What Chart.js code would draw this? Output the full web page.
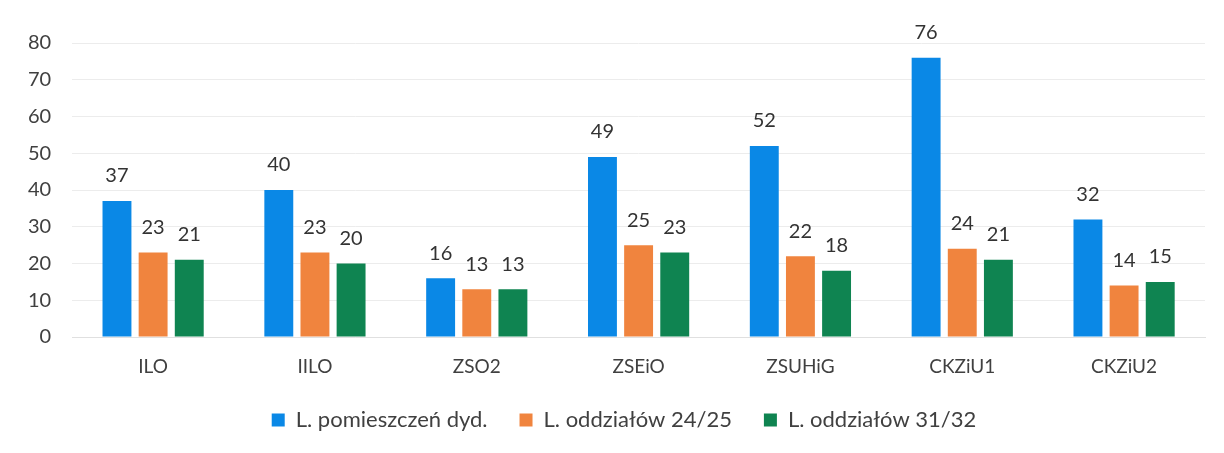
<!DOCTYPE html>
<html>
<head>
<meta charset="utf-8">
<script src="https://cdn.jsdelivr.net/npm/chart.js@4"></script>
<style>
  body { margin:0; background:#fff; }
</style>
</head>
<body>
<canvas id="schoolChart" width="1224" height="453"></canvas>
<script>
// dane
var schools = ["ILO", "IILO", "ZSO2", "ZSEiO", "ZSUHiG", "CKZiU1", "CKZiU2"];
var rooms = [37, 40, 16, 49, 52, 76, 32];
var classes2425 = [23, 23, 13, 25, 22, 24, 14];
var classes3132 = [21, 20, 13, 23, 18, 21, 15];
var yTicks = [0, 10, 20, 30, 40, 50, 60, 70, 80];

var fontName = "Lato, 'Open Sans', sans-serif";

// wartosci nad slupkami
var valueLabels = {
    id: "valueLabels",
    afterDatasetsDraw: function(chart) {
        var ctx = chart.ctx;
        ctx.save();
        ctx.font = "20px " + fontName;
        ctx.fillStyle = "#333333";
        ctx.textAlign = "center";
        ctx.textBaseline = "bottom";
        chart.data.datasets.forEach(function(ds, i) {
            var meta = chart.getDatasetMeta(i);
            meta.data.forEach(function(bar, j) {
                ctx.fillText(ds.data[j], bar.x, bar.y - 15);
            });
        });
        ctx.restore();
    }
};

// legenda w oryginale jest troche przesunieta w prawo
var legendShift = {
    id: "legendShift",
    afterLayout: function(chart) {
        chart.legend.left += 18;
        chart.legend.right += 18;
    }
};

var chart = new Chart(document.getElementById("schoolChart"), {
    type: "bar",
    data: {
        labels: schools,
        datasets: [{
            label: "L. pomieszczeń dyd.",
            data: rooms,
            backgroundColor: "#0a88e6"
        }, {
            label: "L. oddziałów 24/25",
            data: classes2425,
            backgroundColor: "#f0843e"
        }, {
            label: "L. oddziałów 31/32",
            data: classes3132,
            backgroundColor: "#0f8451"
        }]
    },
    options: {
        responsive: false,
        animation: false,
        layout: { padding: { left: 7, right: 19, top: 43, bottom: 12 } },
        datasets: {
            bar: { categoryPercentage: 0.67, barPercentage: 0.8 }
        },
        scales: {
            x: {
                grid: { display: false, drawTicks: false },
                border: { display: true, color: "#e0e0e0" },
                ticks: { color: "#404040", font: { family: fontName, size: 19 }, padding: 18 },
                afterFit: function(scale) { scale.height = 40; }
            },
            y: {
                min: 0,
                max: 80,
                afterBuildTicks: function(axis) {
                    axis.ticks = yTicks.map(function(v) { return { value: v }; });
                },
                grid: { color: "#ececec", drawTicks: false },
                border: { display: false },
                ticks: { color: "#404040", font: { family: fontName, size: 20 }, padding: 21 }
            }
        },
        plugins: {
            legend: {
                position: "bottom",
                labels: {
                    boxWidth: 13,
                    boxHeight: 13,
                    padding: 32,
                    color: "#404040",
                    font: { family: fontName, size: 22 }
                }
            },
            tooltip: { enabled: false }
        }
    },
    plugins: [valueLabels, legendShift]
});
</script>
</body>
</html>
